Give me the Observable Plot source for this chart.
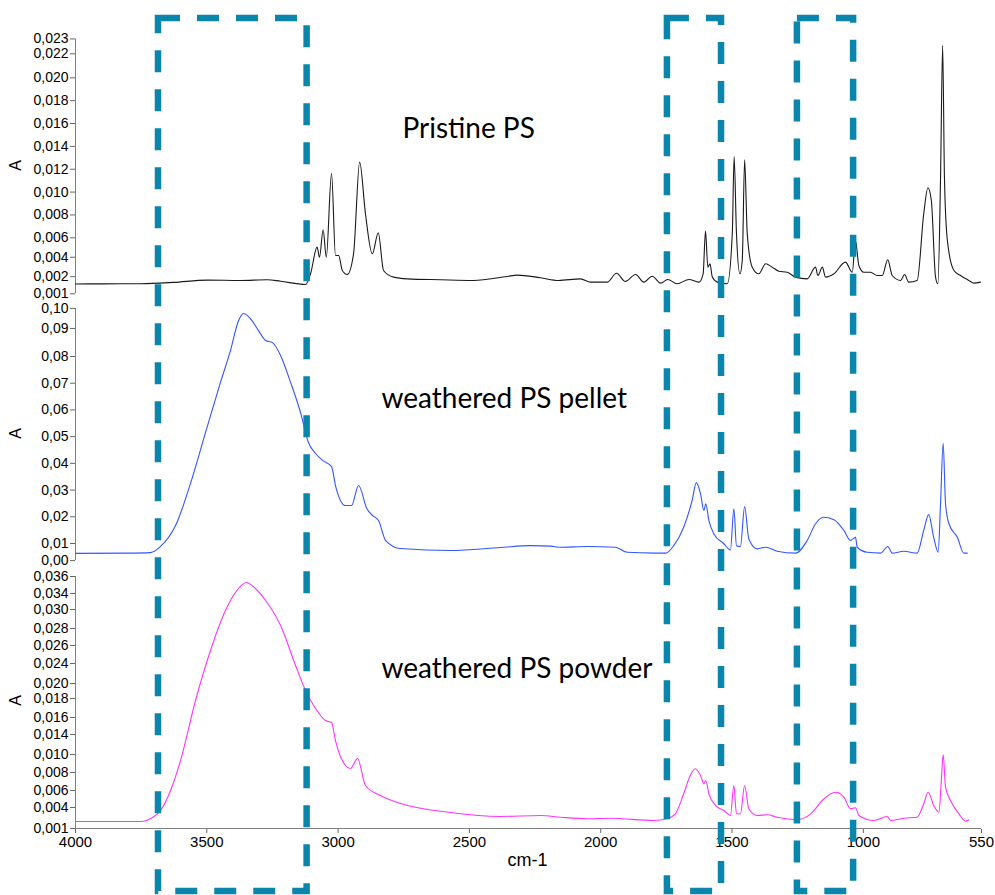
<!DOCTYPE html>
<html><head><meta charset="utf-8">
<script src="https://cdn.jsdelivr.net/npm/d3@7"></script>
<script src="https://cdn.jsdelivr.net/npm/@observablehq/plot@0.6"></script>
<style>
body{margin:0;background:#fff;}
#chart{position:relative;width:995px;height:895px;}
#chart svg{position:absolute;left:0;top:0;overflow:visible;}
#chart g[aria-label="y-axis tick"], #chart g[aria-label="x-axis tick"]{stroke:#666;}
#chart g[aria-label="x-axis tick label"]{font-size:15px;}
</style></head><body><div id="chart"></div>
<script>
// x axis
const wnTicks = [4000, 3500, 3000, 2500, 2000, 1500, 1000, 550];
// highlighted regions (cm-1)
const boxFrom = [3684, 1746, 1251];
const boxTo = [3118, 1540, 1037];

// Pristine PS
const pristineWn = [4000,3900,3752,3627,3498,3372,3270,3219,3124,3105,3080,3071,3057,3045,3025,3010,2998,2984,2965,2941,2918,2896,2870,2847,2827,2789,2737,2610,2484,2356,2318,2229,2161,2077,2039,1975,1940,1906,1867,1836,1804,1772,1745,1709,1664,1626,1610,1601,1592,1584,1575,1556,1518,1499,1492,1483,1470,1461,1452,1442,1423,1398,1372,1347,1322,1290,1258,1214,1182,1173,1156,1144,1112,1068,1042,1030,1017,998,973,947,928,907,890,858,843,827,795,770,754,741,725,716,706,698,691,680,655,630,598,579,554];
const pristineA = [0.00196,0.00197,0.00198,0.0021,0.0023,0.00227,0.00233,0.0022,0.00192,0.00285,0.00518,0.0043,0.0067,0.0043,0.01165,0.00445,0.00445,0.00314,0.00279,0.00463,0.01262,0.00813,0.0046,0.00644,0.00314,0.00256,0.00241,0.00233,0.00227,0.00262,0.00273,0.0025,0.00227,0.00241,0.00212,0.00212,0.0029,0.00218,0.00279,0.00212,0.00264,0.00203,0.00235,0.00198,0.00235,0.00212,0.00285,0.00658,0.00343,0.00373,0.00256,0.00212,0.00198,0.00635,0.01311,0.00635,0.00285,0.00402,0.01283,0.00635,0.00343,0.00285,0.00373,0.00343,0.00308,0.00299,0.00256,0.00241,0.00343,0.0027,0.00343,0.00256,0.00285,0.00387,0.00299,0.00577,0.00358,0.00299,0.00299,0.0027,0.0027,0.00408,0.0027,0.00227,0.00279,0.00212,0.00227,0.0081,0.01038,0.00926,0.00256,0.00198,0.01116,0.02283,0.01116,0.00577,0.00314,0.0027,0.00227,0.00203,0.00212];

// weathered PS pellet
const pelletWn = [4000,3800,3714,3676,3619,3562,3505,3448,3410,3379,3360,3334,3303,3276,3250,3219,3181,3143,3113,3086,3059,3025,3010,2972,2949,2922,2891,2869,2846,2819,2762,2572,2382,2267,2191,2153,2051,1944,1899,1798,1753,1722,1684,1652,1636,1620,1607,1600,1588,1569,1531,1506,1493,1483,1468,1452,1436,1404,1372,1328,1258,1214,1182,1153,1112,1074,1049,1030,1023,985,934,907,890,846,795,770,751,732,715,706,696,687,674,642,617,604];
const pelletA = [0.0063,0.0064,0.0066,0.0089,0.0167,0.0325,0.0515,0.0703,0.0822,0.0935,0.0961,0.0942,0.0897,0.086,0.0852,0.0804,0.0703,0.059,0.0478,0.0437,0.0411,0.0388,0.0317,0.0242,0.0242,0.0317,0.0231,0.0205,0.0186,0.0111,0.0081,0.0074,0.0085,0.0092,0.009,0.0086,0.0089,0.0086,0.0067,0.0064,0.0064,0.0092,0.0161,0.0261,0.0328,0.0286,0.0223,0.0249,0.0186,0.0136,0.0099,0.0076,0.023,0.0092,0.0089,0.0238,0.0117,0.008,0.0086,0.0071,0.0064,0.0111,0.0174,0.0198,0.0189,0.0149,0.0111,0.0123,0.0086,0.0067,0.0064,0.0089,0.0064,0.0071,0.0064,0.0149,0.0208,0.0123,0.0067,0.0249,0.0475,0.0249,0.0174,0.0123,0.0064,0.0064];

// weathered PS powder
const powderWn = [4000,3752,3707,3676,3638,3600,3543,3486,3429,3391,3349,3315,3276,3219,3162,3124,3086,3048,3025,3010,2972,2953,2926,2896,2839,2762,2572,2382,2229,2153,2051,1962,1798,1747,1716,1684,1659,1640,1620,1607,1600,1588,1562,1531,1506,1493,1483,1468,1452,1436,1404,1366,1328,1252,1200,1150,1106,1074,1049,1030,1017,960,909,896,846,795,770,753,732,712,703,696,687,668,636,611,598];
const powderA = [0.00197,0.00197,0.00253,0.0035,0.00628,0.01044,0.01878,0.02572,0.03128,0.03378,0.03517,0.03433,0.03267,0.02919,0.02364,0.02017,0.01767,0.016,0.01572,0.01322,0.00975,0.00933,0.01072,0.00697,0.00558,0.00447,0.00322,0.00267,0.00281,0.00257,0.00235,0.00243,0.00211,0.00235,0.00304,0.00582,0.00836,0.00929,0.00836,0.00721,0.00767,0.00582,0.00419,0.0035,0.00281,0.00697,0.00304,0.00304,0.00697,0.00374,0.00281,0.0029,0.00257,0.00225,0.00304,0.00513,0.00604,0.00535,0.00374,0.00388,0.00281,0.00211,0.00267,0.00211,0.00243,0.00257,0.00443,0.00604,0.00419,0.00326,0.00767,0.01128,0.00674,0.00489,0.00304,0.00201,0.00221];

// y tick values (as plotted by the instrument software) and their printed labels
const pristineTicks = [0.0234,0.0221,0.020,0.018,0.016,0.014,0.012,0.010,0.008,0.006,0.0043,0.0026,0.0011];
const pristineTickLabels = ["0,023","0,022","0,020","0,018","0,016","0,014","0,012","0,010","0,008","0,006","0,004","0,002","0,001"];
const pelletTicks = [0.098,0.0905,0.08,0.07,0.06,0.05,0.04,0.03,0.02,0.01,0.0036];
const pelletTickLabels = ["0,10","0,09","0,08","0,07","0,06","0,05","0,04","0,03","0,02","0,01","0,00"];
const powderTicks = [0.036,0.03364,0.03142,0.02878,0.02642,0.02392,0.02114,0.01906,0.01642,0.01406,0.01128,0.00878,0.00628,0.00392,0.001];
const powderTickLabels = ["0,036","0,034","0,030","0,028","0,026","0,024","0,020","0,018","0,016","0,014","0,010","0,008","0,006","0,004","0,001"];

const titles = ["Pristine PS", "weathered PS pellet", "weathered PS powder"];
const colors = ["#1a1a1a", "#3355ff", "#ff33ff"];

const W = 995, H = 895;
const chart = document.getElementById("chart");

function panel({wn, a, color, yDomain, yRange, ticks, tickLabels, title, titleAt, titleSize, aAt, showX}) {
  const data = wn.map((w, i) => ({w, a: a[i]}));
  const labelOf = new Map(ticks.map((t, i) => [t, tickLabels[i]]));
  const marks = [
    Plot.ruleX([4000], {y1: ticks[ticks.length - 1], y2: ticks[0], stroke: "#808080"}),
    Plot.line(data, {x: "w", y: "a", stroke: color, strokeWidth: 1.1, curve: "monotone-x"}),
    Plot.text([title], {x: titleAt[0], y: titleAt[1], text: d => d, textAnchor: "start", fontSize: titleSize, fontFamily: "Lato", fill: "#000"}),
    Plot.text(["A"], {x: 4000, y: aAt, text: d => d, rotate: -90, dx: -60, fontSize: 16, fill: "#000"})
  ];
  if (showX) {
    marks.push(Plot.ruleY([ticks[ticks.length - 1]], {x1: 4000, x2: 550, stroke: "#808080"}));
    marks.push(Plot.text(["cm-1"], {x: 2279, y: -0.0034, text: d => d, fontSize: 18, fill: "#000"}));
  }
  return Plot.plot({
    width: W, height: H,
    marginLeft: 75, marginRight: 14, marginTop: 18, marginBottom: 66,
    style: {background: "transparent", fontFamily: "'Liberation Sans', Arial, sans-serif", fontSize: "14px", color: "#000", overflow: "visible"},
    x: {domain: [4000, 550], range: [75, 981], ticks: wnTicks, tickFormat: d => `${d}`, tickSize: 4, tickPadding: 3, label: null, axis: showX ? "bottom" : null},
    y: {domain: yDomain, range: yRange, ticks, tickFormat: d => labelOf.get(d), tickSize: 5, tickPadding: 2, label: null},
    marks
  });
}

chart.append(panel({wn: pristineWn, a: pristineA, color: colors[0], yDomain: [0.006, 0.020], yRange: [237.3, 77.3],
  ticks: pristineTicks, tickLabels: pristineTickLabels, title: titles[0], titleAt: [2755, 0.01556], titleSize: 28, aAt: 0.01233, showX: false}));
chart.append(panel({wn: pelletWn, a: pelletA, color: colors[1], yDomain: [0.01, 0.08], yRange: [543, 356],
  ticks: pelletTicks, tickLabels: pelletTickLabels, title: titles[1], titleAt: [2835, 0.0639], titleSize: 28, aAt: 0.0512, showX: false}));
chart.append(panel({wn: powderWn, a: powderA, color: colors[2], yDomain: [0.001, 0.036], yRange: [828, 576],
  ticks: powderTicks, tickLabels: powderTickLabels, title: titles[2], titleAt: [2835, 0.0232], titleSize: 28, aAt: 0.0188, showX: true}));

// dashed highlight boxes
const boxes = boxFrom.map((d, i) => ({x1: d, x2: boxTo[i], y1: 0, y2: 1}));
chart.append(Plot.plot({
  width: W, height: H, marginLeft: 75, marginRight: 14, marginTop: 18, marginBottom: 66,
  style: {background: "transparent", overflow: "visible"},
  x: {domain: [4000, 550], range: [75, 981], axis: null},
  y: {domain: [0, 1], range: [891, 18], axis: null},
  marks: [
    Plot.rect(boxes, {x1: "x1", x2: "x2", y1: "y1", y2: "y2", fill: "none", stroke: "#0a86ad", strokeWidth: 6.5, strokeDasharray: "22,17"})
  ]
}));
</script></body></html>
